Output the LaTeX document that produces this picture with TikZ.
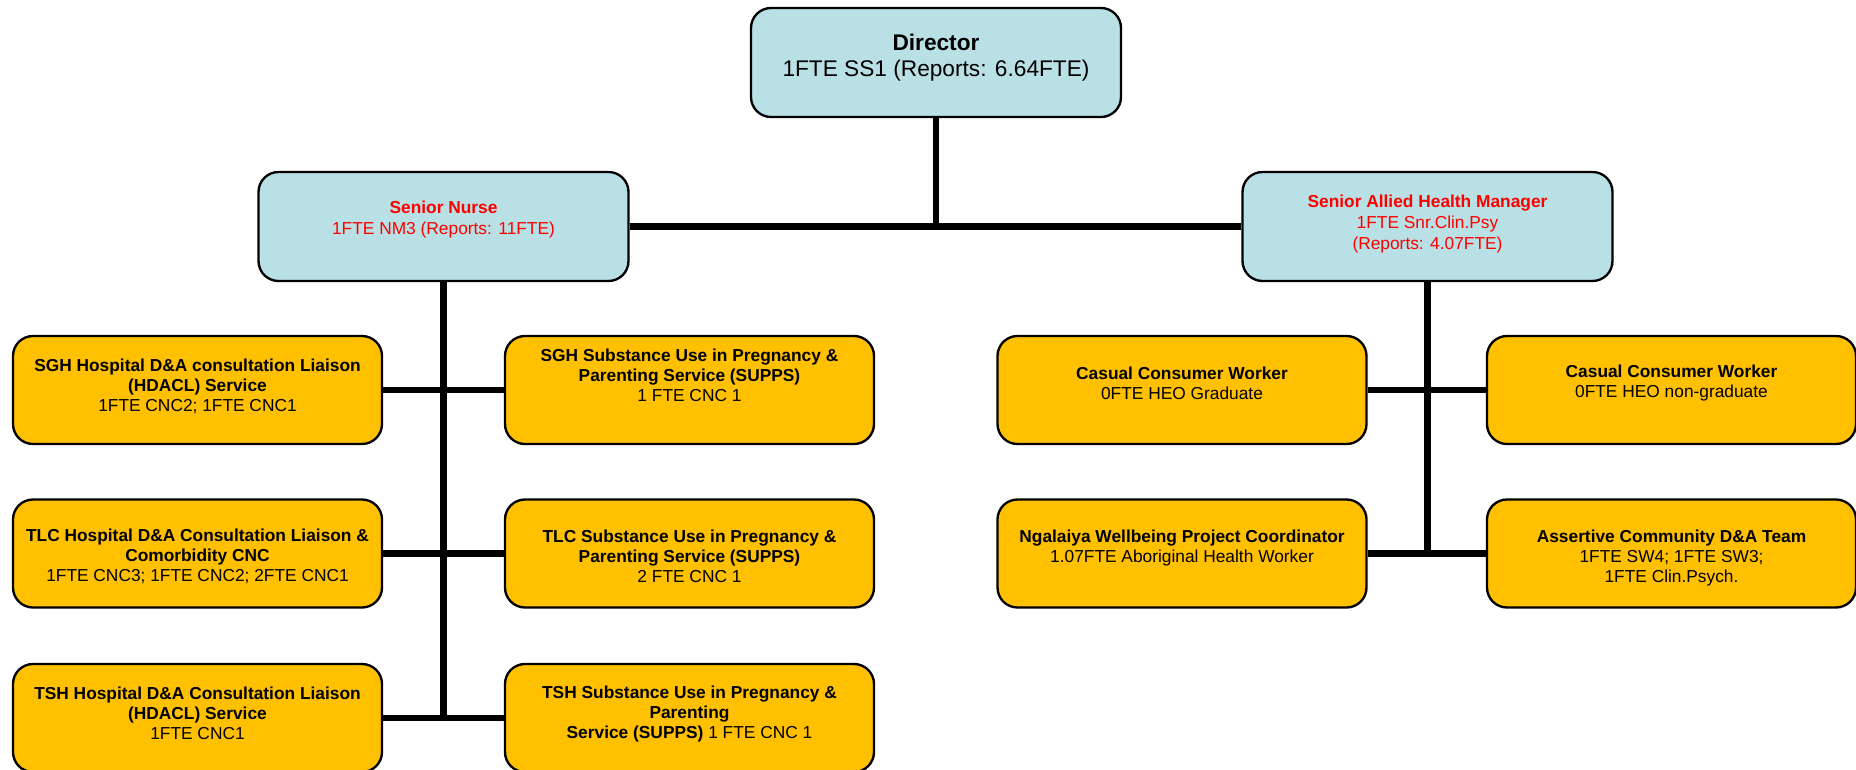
\documentclass[tikz,border=0pt]{standalone}
\usepackage{fontspec}
\setmainfont{Liberation Sans}
\definecolor{headblue}{HTML}{B9E0E4}
\definecolor{unitgold}{HTML}{FFC000}
\definecolor{headred}{HTML}{FF0000}
\begin{document}
\begin{tikzpicture}[x=0.75pt,y=-0.75pt,
  box/.style={draw=black, line width=1.75pt, rounded corners=15pt, inner sep=0pt},
  headbox/.style={box, fill=headblue, minimum width=277.5pt, minimum height=81.75pt},
  unitbox/.style={box, fill=unitgold, minimum width=276.75pt, minimum height=81pt},
  toptext/.style={align=center, inner sep=0pt, font=\fontsize{17}{19.5}\selectfont},
  headtext/.style={align=center, inner sep=0pt, text=headred, font=\fontsize{13}{16}\selectfont},
  unittext/.style={align=center, inner sep=0pt, font=\fontsize{13}{15}\selectfont},
  link/.style={line width=4.8pt, black}]
\useasboundingbox (0,0) rectangle (1856,770);

% boxes
\node[headbox] (dir) at (936,62.5) {};
\node[headbox] (sn) at (443.5,226.5) {};
\node[headbox] (sa) at (1427.5,226.5) {};
\node[unitbox] (l1) at (197.5,390) {};
\node[unitbox] (r1) at (689.5,390) {};
\node[unitbox] (l2) at (197.5,553.5) {};
\node[unitbox] (r2) at (689.5,553.5) {};
\node[unitbox] (l3) at (197.5,718) {};
\node[unitbox] (r3) at (689.5,718) {};
\node[unitbox] (c1) at (1182,390) {};
\node[unitbox] (c2) at (1671.5,390) {};
\node[unitbox] (c3) at (1182,553.5) {};
\node[unitbox] (c4) at (1671.5,553.5) {};

% box texts
\node[toptext] (dirt) at ([yshift=3.6pt]dir.center) {\textbf{Director}\\1FTE SS1 (Reports: 6.64FTE)};
\node[headtext] (snt) at ([yshift=5.3pt]sn.center) {\textbf{Senior Nurse}\\1FTE NM3 (Reports: 11FTE)};
\node[headtext] (sat) at ([yshift=1.8pt]sa.center) {\textbf{Senior Allied Health Manager}\\1FTE Snr.Clin.Psy\\(Reports: 4.07FTE)};
\node[unittext] (l1t) at ([yshift=2.7pt]l1.center) {\textbf{SGH Hospital D\&A consultation Liaison}\\\textbf{(HDACL) Service}\\1FTE CNC2; 1FTE CNC1};
\node[unittext] (r1t) at ([yshift=10.7pt]r1.center) {\textbf{SGH Substance Use in Pregnancy \&}\\\textbf{Parenting Service (SUPPS)}\\1 FTE CNC 1};
\node[unittext] (l2t) at ([yshift=-1.8pt]l2.center) {\textbf{TLC Hospital D\&A Consultation Liaison \&}\\\textbf{Comorbidity CNC}\\1FTE CNC3; 1FTE CNC2; 2FTE CNC1};
\node[unittext] (r2t) at ([yshift=-1.8pt]r2.center) {\textbf{TLC Substance Use in Pregnancy \&}\\\textbf{Parenting Service (SUPPS)}\\2 FTE CNC 1};
\node[unittext] (l3t) at ([yshift=3.6pt]l3.center) {\textbf{TSH Hospital D\&A Consultation Liaison}\\\textbf{(HDACL) Service}\\1FTE CNC1};
\node[unittext] (r3t) at ([yshift=2.7pt]r3.center) {\textbf{TSH Substance Use in Pregnancy \&}\\\textbf{Parenting}\\\textbf{Service (SUPPS)} 1 FTE CNC 1};
\node[unittext] (c1t) at ([yshift=4.9pt]c1.center) {\textbf{Casual Consumer Worker}\\0FTE HEO Graduate};
\node[unittext] (c2t) at ([yshift=4.9pt]c2.center) {\textbf{Casual Consumer Worker}\\0FTE HEO non-graduate};
\node[unittext] (c3t) at ([yshift=4pt]c3.center) {\textbf{Ngalaiya Wellbeing Project Coordinator}\\1.07FTE Aboriginal Health Worker};
\node[unittext] (c4t) at ([yshift=-3.6pt]c4.center) {\textbf{Assertive Community D\&A Team}\\1FTE SW4; 1FTE SW3;\\1FTE Clin.Psych.};

% reporting lines
\draw[link] (dir.south) -- ([yshift=-2.4pt]dir.south |- sn.east);
\draw[link] (sn.east) -- (sa.west);
\draw[link] (sn.south) -- ([yshift=-2.4pt]sn.south |- r3.west);
\draw[link] (l1.east) -- (r1.west);
\draw[link] (l2.east) -- (r2.west);
\draw[link] (l3.east) -- (r3.west);
\draw[link] (sa.south) -- ([yshift=-2.4pt]sa.south |- c3.east);
\draw[link] (c1.east) -- (c2.west);
\draw[link] (c3.east) -- (c4.west);
\end{tikzpicture}
\end{document}
